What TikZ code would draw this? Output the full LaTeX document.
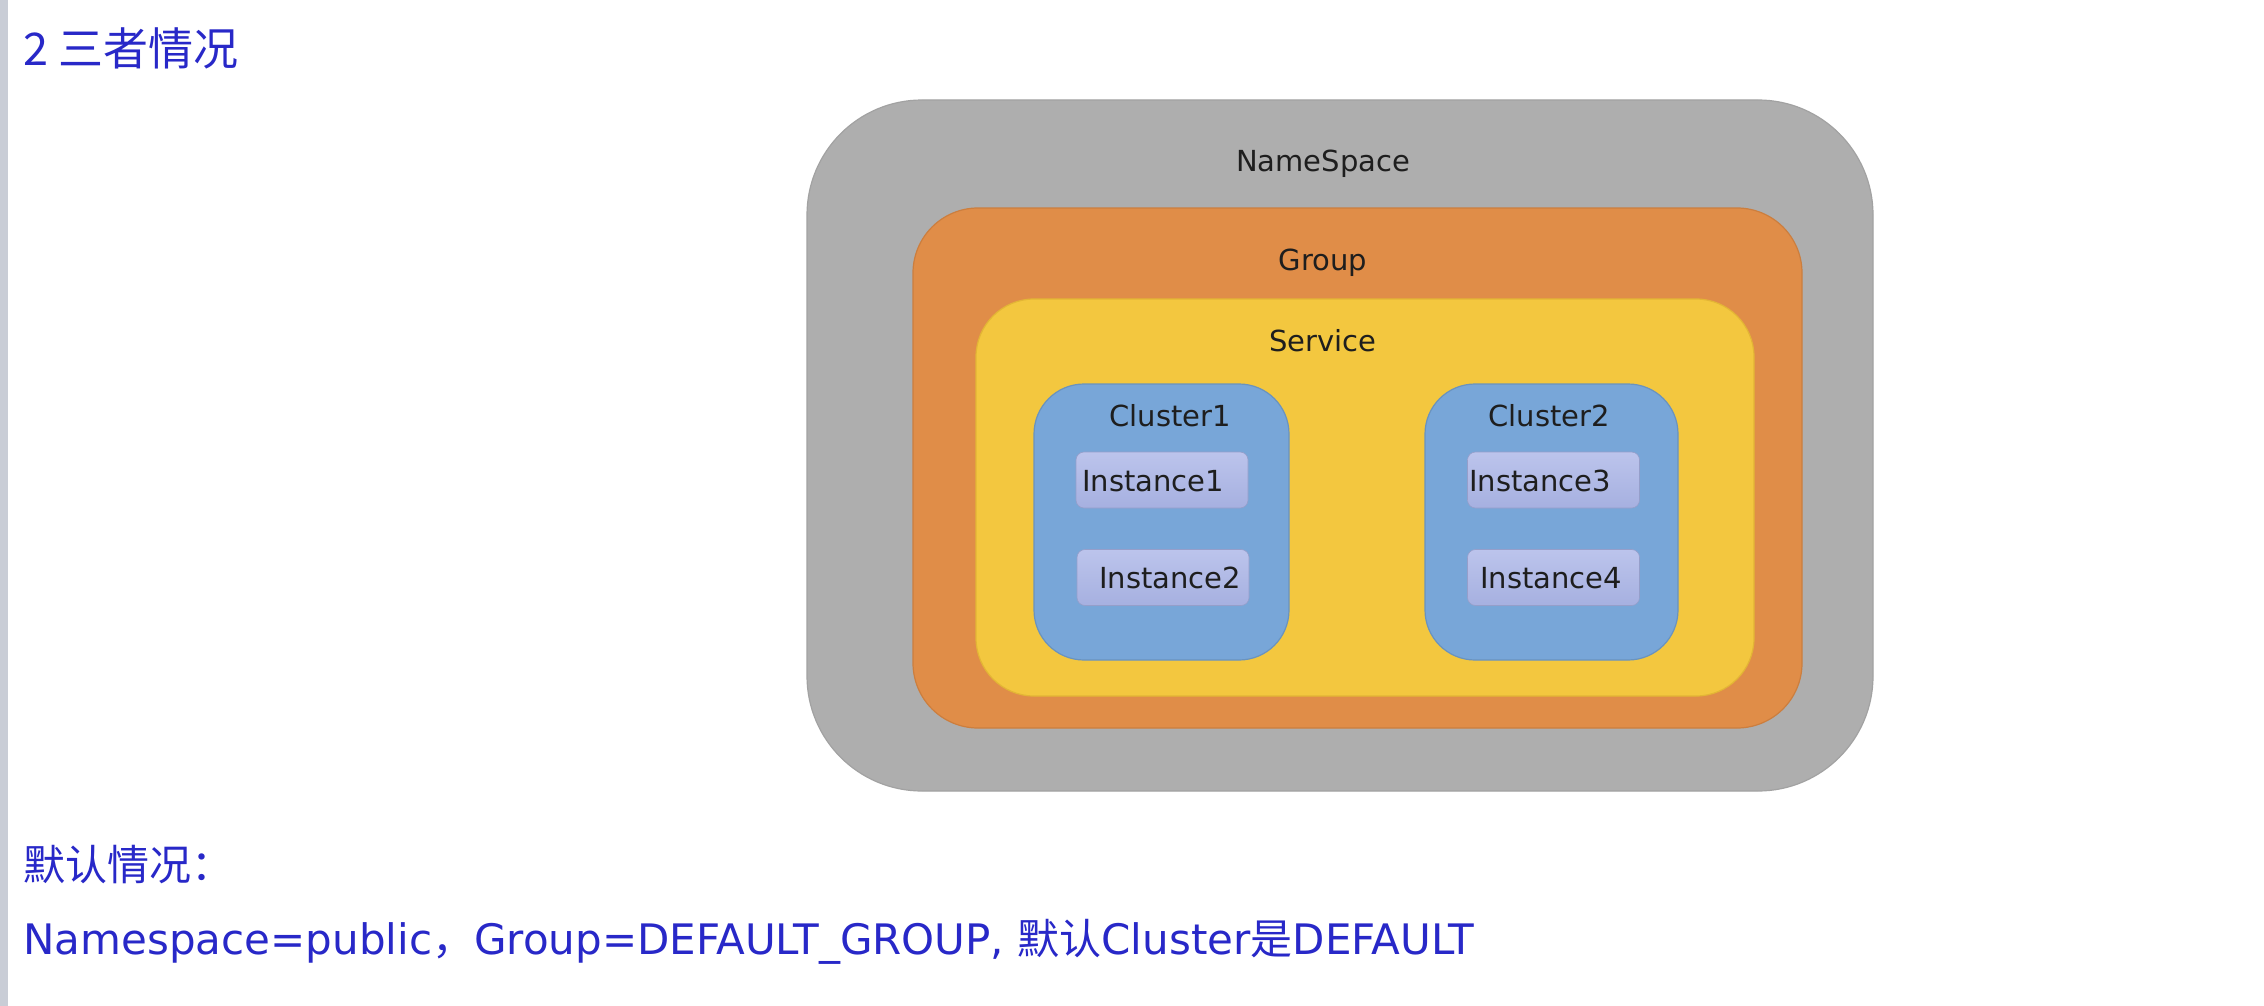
\documentclass[tikz,border=0pt]{standalone}
\usepackage{fontspec}
\setmainfont{DejaVu Sans}
\newfontfamily\cjk{Noto Sans CJK SC}
\definecolor{nsgray}{HTML}{AEAEAE}
\definecolor{nsline}{HTML}{A2A2A2}
\definecolor{grporange}{HTML}{E08D48}
\definecolor{grpline}{HTML}{CC7E3E}
\definecolor{svcyellow}{HTML}{F3C73F}
\definecolor{svcline}{HTML}{E3B535}
\definecolor{clblue}{HTML}{78A6D8}
\definecolor{clline}{HTML}{6A93BE}
\definecolor{insttop}{HTML}{BCC4EC}
\definecolor{instbot}{HTML}{A6B0E0}
\definecolor{labeltext}{HTML}{1E1E1E}
\definecolor{bluetext}{HTML}{2828C8}
\definecolor{sidebar}{HTML}{C9CDD6}
\begin{document}
\begin{tikzpicture}[x=0.5pt,y=-0.5pt,
  box/.style={rectangle, inner sep=0pt, line width=0.6pt},
  nsbox/.style={box, fill=nsgray, draw=nsline, rounded corners=57.5pt},
  grpbox/.style={box, fill=grporange, draw=grpline, rounded corners=32.5pt},
  svcbox/.style={box, fill=svcyellow, draw=svcline, rounded corners=29pt},
  clbox/.style={box, fill=clblue, draw=clline, rounded corners=25pt},
  instbox/.style={box, top color=insttop, bottom color=instbot, draw=instbot!90!black, line width=0.3pt, rounded corners=4pt, minimum width=86pt, minimum height=28pt},
  lbl/.style={inner sep=0pt, text=labeltext, font=\fontsize{14.5}{17}\selectfont},
  note/.style={inner sep=0pt, anchor=west, text=bluetext}
]
\useasboundingbox (0,0) rectangle (2264,1006);
\fill[white] (0,0) rectangle (2264,1006);
\fill[sidebar] (0,0) rectangle (8,1006);

% title
\node[note, font=\cjk\fontsize{22.5}{26}\selectfont] (title) at (23,48) {2 三者情况};

% nested boxes
\node[nsbox, minimum width=533pt, minimum height=345.5pt] (ns) at (1340,445.5) {};
\node[grpbox, minimum width=444.5pt, minimum height=260pt] (grp) at (1357.5,468) {};
\node[svcbox, minimum width=389pt, minimum height=198.5pt] (svc) at (1365,497.5) {};
\node[clbox, minimum width=127.5pt, minimum height=138pt] (cl1) at (1161.5,522) {};
\node[clbox, minimum width=126.5pt, minimum height=138pt] (cl2) at (1551.5,522) {};
\node[instbox] (i1) at (1162,480) {};
\node[instbox] (i2) at (1163,577.5) {};
\node[instbox] (i3) at (1553.5,480) {};
\node[instbox] (i4) at (1553.5,577.5) {};

% labels
\node[lbl] (nsl) at (1323,164) {NameSpace};
\node[lbl] (grpl) at (1323,263) {Group};
\node[lbl] (svcl) at (1323,341) {Service};
\node[lbl] (cl1l) at (1170,416) {Cluster1};
\node[lbl] (cl2l) at (1549,416) {Cluster2};
\node[lbl] (i1l) at (1153,481) {Instance1};
\node[lbl] (i2l) at (1170,578) {Instance2};
\node[lbl] (i3l) at (1540,481) {Instance3};
\node[lbl] (i4l) at (1551,578) {Instance4};

% notes
\node[note, font=\cjk\fontsize{21}{25}\selectfont] (def) at (23,865) {默认情况：};
\node[note, font=\fontsize{21}{25}\selectfont] (line) at (23,942)
  {Namespace=public{\cjk ，}Group=DEFAULT\_GROUP, {\cjk 默认}Cluster{\cjk 是}DEFAULT};
\end{tikzpicture}
\end{document}
